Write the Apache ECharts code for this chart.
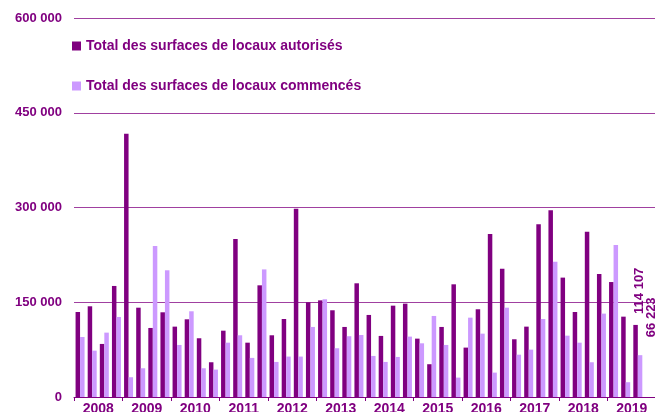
<!DOCTYPE html>
<html>
<head>
<meta charset="utf-8">
<script src="https://cdn.jsdelivr.net/npm/echarts@6/dist/echarts.min.js"></script>
<style>
  html, body { margin: 0; padding: 0; background: #fff; }
  #chart { width: 655px; height: 412px; }
</style>
</head>
<body>
<div id="chart"></div>
<script>
'use strict';

var years = ['2008', '2009', '2010', '2011', '2012', '2013', '2014', '2015', '2016', '2017', '2018', '2019'];
var quarters = ['T1', 'T2', 'T3', 'T4'];

// surfaces autorisées, par trimestre (m²)
var autorises = [
    134600, 143600, 84000, 175800,
    416700, 141400, 109300, 134100,
    111400, 123000, 93000, 55000,
    105000, 250000, 86000, 176800,
    97700, 123500, 298000, 150000,
    153000, 137300, 110900, 180000,
    129900, 96700, 144600, 147800,
    92400, 51900, 110900, 178400,
    78200, 138900, 258000, 203000,
    91400, 111400, 273300, 295500,
    189000, 134600, 261700, 194700,
    182000, 127200, 114107, null
];

// surfaces commencées, par trimestre (m²)
var commences = [
    95000, 73400, 101900, 126700,
    31300, 45500, 239000, 200600,
    82400, 135700, 45500, 43400,
    86000, 97700, 61900, 202000,
    55500, 64000, 64000, 110900,
    154700, 77200, 96200, 98200,
    65000, 55500, 63400, 95600,
    85000, 128300, 82400, 30700,
    125600, 100300, 38600, 141400,
    67000, 75000, 123500, 214000,
    97100, 86000, 55000, 132000,
    240600, 23400, 66223, null
];

var DARK = '#800080';
var LIGHT = '#cc99ff';
var TEXT = '#800080';
var FONT = 'Liberation Sans';

var categories = [];
years.forEach(function (y) {
    quarters.forEach(function (q) { categories.push(y + ' ' + q); });
});

function fmt(v) {
    return String(v).replace(/\B(?=(\d{3})+(?!\d))/g, ' ');
}

// only the last known value gets a label
// (offset is in the rotated frame: [along bar, sideways])
function withLastLabel(values, offset) {
    var last = -1;
    values.forEach(function (v, i) { if (v != null) { last = i; } });
    return values.map(function (v, i) {
        if (i !== last) { return v; }
        return { value: v, label: { show: true, offset: offset } };
    });
}

var chart = echarts.init(document.getElementById('chart'));

var barLabel = {
    show: false,
    position: 'top',
    rotate: 90,
    align: 'left',
    verticalAlign: 'middle',
    distance: 3,
    color: TEXT,
    fontFamily: FONT,
    fontWeight: 'bold',
    fontSize: 13,
    formatter: function (p) { return fmt(p.value); }
};

chart.setOption({
    animation: false,
    textStyle: { fontFamily: FONT },
    grid: { left: 74, right: -1, top: 18, bottom: 15, containLabel: false, outerBoundsMode: 'none' },
    legend: {
        orient: 'vertical',
        left: 67,
        top: 34,
        itemWidth: 9,
        itemHeight: 9,
        itemGap: 26,
        icon: 'rect',
        textStyle: { color: TEXT, fontSize: 14, fontWeight: 'bold', fontFamily: FONT }
    },
    xAxis: [{
        type: 'category',
        data: categories,
        show: false
    }, {
        type: 'category',
        data: years,
        position: 'bottom',
        axisLine: { lineStyle: { color: DARK, width: 1 } },
        axisTick: { show: true, length: 4, lineStyle: { color: DARK } },
        axisLabel: { color: TEXT, fontWeight: 'bold', fontSize: 14, margin: 5 },
        splitLine: { show: false }
    }],
    yAxis: {
        type: 'value',
        min: 0,
        max: 600000,
        interval: 150000,
        axisLine: { show: false },
        axisTick: { show: false },
        axisLabel: {
            color: TEXT, fontWeight: 'bold', fontSize: 13, margin: 12,
            formatter: fmt
        },
        splitLine: { lineStyle: { color: '#a040a0', width: 1 } }
    },
    series: [{
        name: 'Total des surfaces de locaux autorisés',
        type: 'bar',
        xAxisIndex: 0,
        barWidth: 4.5,
        barGap: '0%',
        itemStyle: { color: DARK },
        label: barLabel,
        data: withLastLabel(autorises, [8, 4])
    }, {
        name: 'Total des surfaces de locaux commencés',
        type: 'bar',
        xAxisIndex: 0,
        barWidth: 4.5,
        barGap: '0%',
        itemStyle: { color: LIGHT },
        label: barLabel,
        data: withLastLabel(commences, [15, 11])
    }]
});
</script>
</body>
</html>
